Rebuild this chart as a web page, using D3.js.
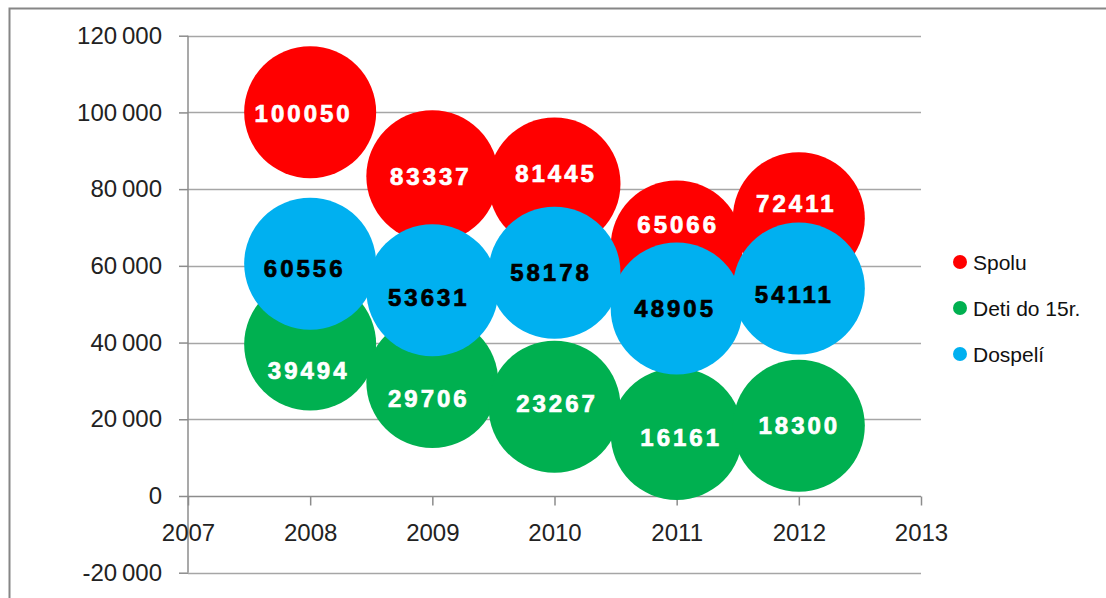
<!DOCTYPE html>
<html>
<head>
<meta charset="utf-8">
<script src="https://cdn.jsdelivr.net/npm/d3@7"></script>
<style>
  body { margin: 0; background: #fff; }
  svg { display: block; }
  .axis text { font-family: "Liberation Sans", Arial, sans-serif; font-size: 24px; fill: #222; }
  .bubble-label { font-family: "Liberation Sans", Arial, sans-serif; font-size: 24px; font-weight: bold; letter-spacing: 3px; stroke-width: 0.7px; }
  .legend text { font-family: "Liberation Sans", Arial, sans-serif; font-size: 21px; fill: #111; }
</style>
</head>
<body>
<div id="chart"></div>
<script>
var years = [2008, 2009, 2010, 2011, 2012];
var spolu = [100050, 83337, 81445, 65066, 72411];
var deti = [39494, 29706, 23267, 16161, 18300];
var dospeli = [60556, 53631, 58178, 48905, 54111];

var seriesNames = ["Spolu", "Deti do 15r.", "Dospelí"];
var xTicks = [2007, 2008, 2009, 2010, 2011, 2012, 2013];
var yTicks = [-20000, 0, 20000, 40000, 60000, 80000, 100000, 120000];

// hand-moved data labels in the original (pixel nudges from bubble centre)
var labelNudge = [
  [[-8, 1], [-3, 0], [0, -10], [0, -22], [-4, -15]],
  [[-3, 26], [-5, 16], [1, -3], [3, 3], [-1, 0]],
  [[-7, 5], [-5, 7], [-5, 0], [-3, 0], [-6, 6]]
];

var width = 1106, height = 598;
var margin = {top: 36, left: 188, right: 185, bottom: 25};
var letterSpacing = 3;

var svg = d3.select("#chart")
  .append("svg")
  .attr("width", width)
  .attr("height", height);

// outer chart border
svg.append("rect")
  .attr("x", 9.5)
  .attr("y", 8.5)
  .attr("width", width + 20)
  .attr("height", height + 20)
  .attr("fill", "none")
  .attr("stroke", "#868686")
  .attr("stroke-width", 2);

var xScale = d3.scaleLinear()
  .domain([2007, 2013])
  .range([margin.left, width - margin.right]);

var yScale = d3.scaleLinear()
  .domain([-20000, 120000])
  .range([height - margin.bottom - 0.3, margin.top - 0.3]);

var fmt = function(d) {
  return d3.format(",")(d).replace(/,/g, "\u2009").replace("\u2212", "-");
};

// gridlines
svg.append("g")
  .selectAll("line")
  .data(yTicks.filter(function(d) { return d !== 0; }))
  .enter()
  .append("line")
    .attr("x1", xScale(2007))
    .attr("x2", xScale(2013))
    .attr("y1", function(d) { return Math.round(yScale(d)) + 0.5; })
    .attr("y2", function(d) { return Math.round(yScale(d)) + 0.5; })
    .attr("stroke", "#a6a6a6")
    .attr("stroke-width", 1.5);

var yAxis = svg.append("g")
  .attr("class", "axis")
  .attr("transform", `translate(${xScale(2007)},0)`)
  .call(d3.axisLeft(yScale).tickValues(yTicks).tickSize(9).tickPadding(17).tickFormat(fmt));

var xAxis = svg.append("g")
  .attr("class", "axis")
  .attr("transform", `translate(0,${Math.round(yScale(0)) + 0.5})`)
  .call(d3.axisBottom(xScale).tickValues(xTicks).tickSize(9).tickPadding(18.5).tickFormat(d3.format("d")));

svg.selectAll(".axis path, .axis line")
  .attr("stroke", "#8c8c8c")
  .attr("stroke-width", 1.5);
yAxis.select(".domain").attr("d", `M0,${yScale(120000)}V${yScale(-20000)}`);
xAxis.select(".domain").attr("d", `M${xScale(2007)},0H${xScale(2013)}`);

var series = [
  {name: seriesNames[0], values: spolu, color: "#ff0000", text: "#ffffff"},
  {name: seriesNames[1], values: deti, color: "#00b050", text: "#ffffff"},
  {name: seriesNames[2], values: dospeli, color: "#00b0f0", text: "#000000"}
];

var radius = 66;

series.forEach(function(s) {
  svg.append("g")
    .selectAll("circle")
    .data(s.values)
    .enter()
    .append("circle")
      .attr("cx", function(d, i) { return xScale(years[i]); })
      .attr("cy", function(d) { return yScale(d); })
      .attr("r", radius)
      .attr("fill", s.color);
});

series.forEach(function(s, k) {
  svg.append("g")
    .selectAll("text")
    .data(s.values)
    .enter()
    .append("text")
      .attr("class", "bubble-label")
      .attr("x", function(d, i) { return xScale(years[i]) + labelNudge[k][i][0] + letterSpacing / 2; })
      .attr("y", function(d, i) { return yScale(d) + labelNudge[k][i][1]; })
      .attr("text-anchor", "middle")
      .attr("dy", "0.36em")
      .attr("fill", s.text)
      .attr("stroke", s.text)
      .text(function(d) { return d; });
});

// legend
var legend = svg.append("g")
  .attr("class", "legend")
  .selectAll("g")
  .data(series)
  .enter()
  .append("g")
    .attr("transform", function(d, i) { return `translate(960,${262 + i * 46})`; });

legend.append("circle")
  .attr("r", 7)
  .attr("fill", function(d) { return d.color; });

legend.append("text")
  .attr("x", 13)
  .attr("dy", "0.36em")
  .text(function(d) { return d.name; });
</script>
</body>
</html>
